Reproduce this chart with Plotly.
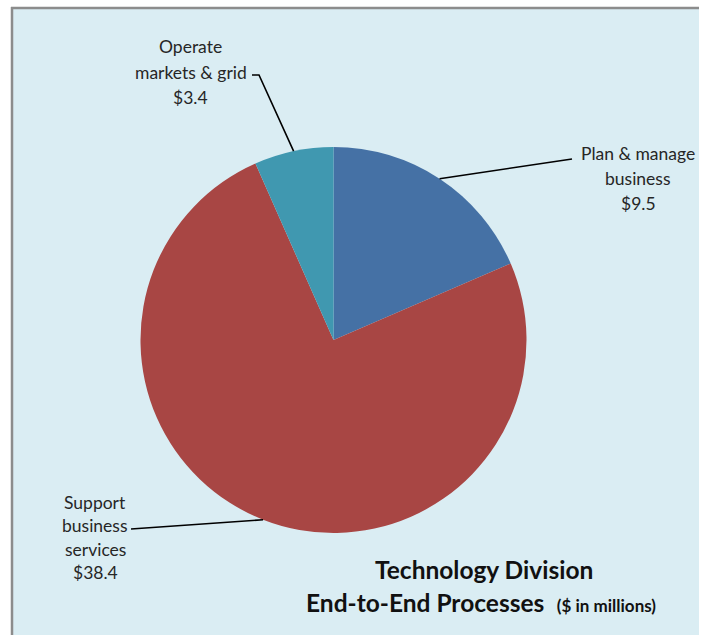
import math
import plotly.graph_objects as go

# Spend by end-to-end process ($ millions)
processes = ["Plan & manage business", "Support business services", "Operate markets & grid"]
spend = [9.5, 38.4, 3.4]
label_lines = [
    ["Plan & manage", "business", "$9.5"],
    ["Support", "business", "services", "$38.4"],
    ["Operate", "markets & grid", "$3.4"],
]
colors = ["#4571A5", "#A84644", "#4098B0"]

W, H = 701, 635
BG = "#DAEDF3"
FONT = "Lato"


def px(x):
    return x / W


def py(y):
    return 1 - y / H


# pie geometry (pixels)
cx, cy, r = 333.5, 340.0, 193.0

fig = go.Figure(go.Pie(
    labels=processes,
    values=spend,
    sort=False,
    direction="clockwise",
    rotation=0,
    marker=dict(colors=colors, line=dict(width=0)),
    textinfo="none",
    hoverinfo="label+value",
    showlegend=False,
    domain=dict(x=[px(cx - r), px(cx + r)], y=[py(cy + r), py(cy - r)]),
))

# label text placement: (centre x, first line y, line spacing, leader start)
label_layout = [
    dict(x=638, y0=153, dy=25, lead=[(572, 159)]),
    dict(x=95, y0=502, dy=23.5, lead=[(131, 529)]),
    dict(x=191, y0=47, dy=25, lead=[(252, 75), (259, 75)]),
]

total = sum(spend)
shapes = []
annotations = []
start = 0.0
for val, lines, lay in zip(spend, label_lines, label_layout):
    sweep = 360.0 * val / total
    mid = math.radians(start + sweep / 2)
    start += sweep
    ex = cx + r * math.sin(mid)
    ey = cy - r * math.cos(mid)
    pts = lay["lead"] + [(ex, ey)]
    path = "M " + " L ".join(f"{px(a)},{py(b)}" for a, b in pts)
    shapes.append(dict(type="path", xref="paper", yref="paper", path=path,
                       line=dict(color="#000000", width=1.6)))
    for i, t in enumerate(lines):
        annotations.append(dict(
            text=t, x=px(lay["x"]), y=py(lay["y0"] + i * lay["dy"]),
            xref="paper", yref="paper", xanchor="center", yanchor="middle",
            showarrow=False, font=dict(family=FONT, size=17.5, color="#262626"),
        ))

# chart title
annotations.append(dict(
    text="<b>Technology Division</b>", x=px(484), y=py(569),
    xref="paper", yref="paper", xanchor="center", yanchor="middle",
    showarrow=False, font=dict(family=FONT, size=24.5, color="#111111"),
))
annotations.append(dict(
    text="<b>End-to-End Processes</b>  <span style='font-size:17px'><b>($ in millions)</b></span>",
    x=px(304), y=py(602),
    xref="paper", yref="paper", xanchor="left", yanchor="middle",
    showarrow=False, font=dict(family=FONT, size=24.5, color="#111111"),
))

# chart area background with grey frame on top and left
shapes.insert(0, dict(type="rect", xref="paper", yref="paper", layer="below",
                      x0=px(11), x1=px(699), y0=0, y1=py(7),
                      fillcolor=BG, line=dict(width=0)))
shapes.insert(1, dict(type="line", xref="paper", yref="paper", layer="below",
                      x0=px(11), x1=px(699), y0=py(8), y1=py(8),
                      line=dict(color="#8C8C8C", width=2.5)))
shapes.insert(2, dict(type="line", xref="paper", yref="paper", layer="below",
                      x0=px(12), x1=px(12), y0=0, y1=py(7),
                      line=dict(color="#8C8C8C", width=2.5)))

fig.update_layout(
    width=W, height=H,
    margin=dict(l=0, r=0, t=0, b=0),
    paper_bgcolor="white",
    plot_bgcolor="white",
    shapes=shapes,
    annotations=annotations,
)

fig.write_html("out.html")
